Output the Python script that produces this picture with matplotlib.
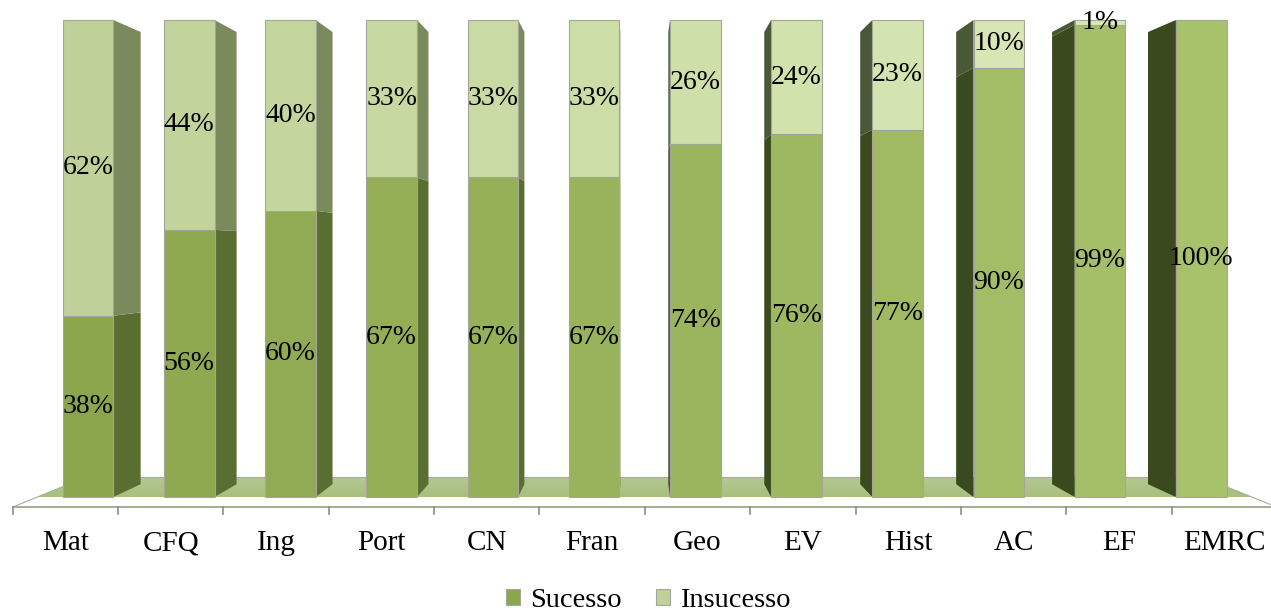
import numpy as np
import matplotlib.pyplot as plt
from matplotlib.patches import Polygon
from matplotlib.colors import to_rgb, LinearSegmentedColormap

materias = ['Mat', 'CFQ', 'Ing', 'Port', 'CN', 'Fran', 'Geo', 'EV', 'Hist', 'AC', 'EF', 'EMRC']
sucesso = [38, 56, 60, 67, 67, 67, 74, 76, 77, 90, 99, 100]
insucesso = [62, 44, 40, 33, 33, 33, 26, 24, 23, 10, 1, 0]
series = ['Sucesso', 'Insucesso']

plt.rcParams['font.family'] = ['Liberation Serif', 'DejaVu Serif']

W, H = 1271, 614
fig = plt.figure(figsize=(W / 100, H / 100), dpi=100)
# eixo principal: plano da face frontal das barras
ax = fig.add_axes([37.4 / W, 117 / H, 1214.4 / W, 477 / H])

# perspectiva simples (ponto de fuga em coordenadas de dados)
VX, VY = 5.45, 51.6
Z_BACK = 0.948
Z_FLOOR_F, Z_FLOOR_B = 1.041, 0.919
HALF = 0.25


def proj(x, y, z):
    return (VX + z * (x - VX), VY + z * (y - VY))


def blend(c1, c2, n):
    a, b = np.array(to_rgb(c1)), np.array(to_rgb(c2))
    return [tuple(a + (b - a) * t) for t in np.linspace(0, 1, n)]


x = np.arange(len(materias))
cor_suc = blend('#8ba64d', '#a8c26c', len(x))
cor_ins = blend('#bfd198', '#dcebb9', len(x))

# chao com degrade
cantos = [proj(-0.5, 0, Z_FLOOR_F), proj(11.5, 0, Z_FLOOR_F),
          proj(11.5, 0, Z_FLOOR_B), proj(-0.5, 0, Z_FLOOR_B)]
floor = Polygon(cantos, closed=True, facecolor='none', edgecolor='none',
                clip_on=False, zorder=1)
ax.add_patch(floor)
ys = [c[1] for c in cantos]
xs = [c[0] for c in cantos]
cmap_chao = LinearSegmentedColormap.from_list('chao', ['#a3bc76', '#abc182', '#b5c795'])
grad = np.linspace(0, 1, 64).reshape(-1, 1)
img = ax.imshow(grad, cmap=cmap_chao, aspect='auto', origin='lower',
                extent=[min(xs), max(xs), min(ys), max(ys)], zorder=1)
img.set_clip_path(floor)
img.set_clip_box(None)
fx0, fy0 = cantos[0]
fx1, fy1 = cantos[1]
ax.plot([fx0, fx1], [fy0, fy1], color='#93a083', lw=1.2, clip_on=False, zorder=1.5)
ax.plot([cantos[3][0], cantos[2][0]], [cantos[3][1], cantos[2][1]],
        color='#a5ae98', lw=0.8, clip_on=False, zorder=1.5)
ax.plot([cantos[0][0], cantos[3][0]], [cantos[0][1], cantos[3][1]],
        color='#a5ae98', lw=0.8, clip_on=False, zorder=1.5)
ax.plot([cantos[1][0], cantos[2][0]], [cantos[1][1], cantos[2][1]],
        color='#a5ae98', lw=0.8, clip_on=False, zorder=1.5)

# marcas do eixo
for k in range(len(materias) + 1):
    tx, ty = proj(k - 0.5, 0, Z_FLOOR_F)
    ax.plot([tx, tx], [ty, ty - 1.5], color='#8c8c8c', lw=1.2, clip_on=False, zorder=1.5)

# faces laterais
for i in x:
    if i < VX:
        xe = i + HALF
        lados = ('#5b6e32', '#7a8a5c')
    else:
        xe = i - HALF
        lados = ('#3a4a1e', '#4b5838')
    segs = [(0, sucesso[i], lados[0]), (sucesso[i], sucesso[i] + insucesso[i], lados[1])]
    for b, t, c in segs:
        if t - b <= 0:
            continue
        face = Polygon([proj(xe, b, 1), proj(xe, t, 1), proj(xe, t, Z_BACK), proj(xe, b, Z_BACK)],
                       closed=True, facecolor=c, edgecolor='none', clip_on=False, zorder=2)
        ax.add_patch(face)

# faces frontais
b1 = ax.bar(x, sucesso, width=2 * HALF, color=cor_suc, edgecolor='#a3a79a',
            linewidth=0.8, zorder=3, clip_on=False, label=series[0])
b2 = ax.bar(x, insucesso, width=2 * HALF, bottom=sucesso, color=cor_ins,
            edgecolor='#a3a79a', linewidth=0.8, zorder=3, clip_on=False, label=series[1])

# rotulos de dados
for i in x:
    ax.text(i, sucesso[i] / 2, f'{sucesso[i]}%', ha='center', va='center',
            fontsize=20, zorder=5)
    if insucesso[i] > 0:
        ax.text(i, sucesso[i] + insucesso[i] / 2, f'{insucesso[i]}%', ha='center',
                va='center', fontsize=20, zorder=5)

# rotulos das categorias
for i, nome in enumerate(materias):
    ax.annotate(nome, xy=proj(i, 0, Z_FLOOR_F), xytext=(0, -31),
                textcoords='offset points', ha='center', va='baseline',
                fontsize=21, annotation_clip=False)

ax.set_xlim(-0.5, 11.5)
ax.set_ylim(0, 100)
ax.axis('off')

fig.legend([b1, b2], series, loc='lower center', bbox_to_anchor=(0.51, -0.04),
           ncol=2, frameon=False, fontsize=20.5, handlelength=0.5, handleheight=0.5,
           handletextpad=0.35, columnspacing=1.2)

fig.savefig('out.png', dpi=100)
